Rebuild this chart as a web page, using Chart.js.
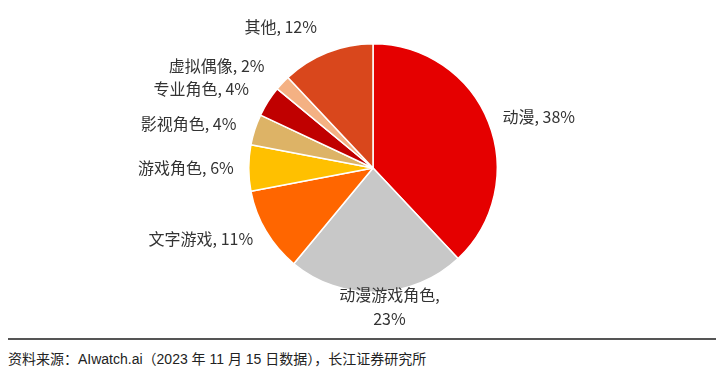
<!DOCTYPE html>
<html>
<head>
<meta charset="utf-8">
<script src="https://cdn.jsdelivr.net/npm/chart.js@4/dist/chart.umd.min.js"></script>
<style>
  html, body { margin: 0; padding: 0; background: #fff; }
  #wrap { position: relative; width: 726px; height: 374px; }
  #box { position: absolute; left: 0; top: 0; width: 726px; height: 336px; }
  #rule { position: absolute; left: 8px; top: 338px; width: 708px; height: 0; border-top: 2px solid #555; }
  #src { position: absolute; left: 8px; top: 348px; font: 14px "Liberation Sans", "Noto Sans CJK SC", sans-serif; color: #222; }
</style>
</head>
<body>
<div id="wrap">
  <div id="box"><canvas id="pie"></canvas></div>
  <div id="rule"></div>
  <div id="src">资料来源：AIwatch.ai（2023 年 11 月 15 日数据），长江证券研究所</div>
</div>
<script>
"use strict";
/* global Chart */
// 数据
const categories = ["动漫", "动漫游戏角色", "文字游戏", "游戏角色", "影视角色", "专业角色", "虚拟偶像", "其他"];
const shares = [38, 23, 11, 6, 4, 4, 2, 12];
const colors = ["#E50000", "#C8C8C8", "#FF6600", "#FFC000", "#DDB366", "#C00000", "#F4B183", "#D9471C"];

// Étiquettes à l'extérieur des parts
const labelsPlugin = {
    id: "labelsExt",
    afterDatasetsDraw(chart) {
        const ctx = chart.ctx;
        const arcs = chart.getDatasetMeta(0).data;
        ctx.save();
        ctx.fillStyle = "#333";
        ctx.font = '16px "Noto Sans CJK SC", "Liberation Sans", sans-serif';
        ctx.textBaseline = "middle";
        arcs.forEach((arc, i) => {
            const mid = (arc.startAngle + arc.endAngle) / 2;
            const c = Math.cos(mid), s = Math.sin(mid);
            // un peu plus loin pour les parts en haut à gauche
            const extra = (c < 0 && s < 0) ? 14 * -s : 0;
            const r = arc.outerRadius + 15 + extra;
            const x = arc.x + c * r;
            const y = arc.y + s * r;
            const txt = categories[i] + ", " + shares[i] + "%";
            if (Math.abs(c) < 0.15 && s > 0) {
                // en bas : deux lignes centrées
                ctx.textAlign = "center";
                ctx.fillText(categories[i] + ",", x + 12, y - 12);
                ctx.fillText(shares[i] + "%", x + 12, y + 12);
            }
            else {
                ctx.textAlign = c >= 0 ? "left" : "right";
                ctx.fillText(txt, x, y);
            }
        });
        ctx.restore();
    }
};

const config = {
    type: "pie",
    data: {
        labels: categories,
        datasets: [{
                data: shares,
                backgroundColor: colors,
                borderColor: "#fff",
                borderWidth: 1.5,
            }],
    },
    options: {
        responsive: true,
        maintainAspectRatio: false,
        animation: false,
        layout: { padding: { left: 20, right: 0, top: 43, bottom: 43 } },
        plugins: {
            legend: { display: false },
            tooltip: { enabled: false },
        },
    },
    plugins: [labelsPlugin],
};
new Chart(document.querySelector("#pie"), config);
</script>
</body>
</html>
